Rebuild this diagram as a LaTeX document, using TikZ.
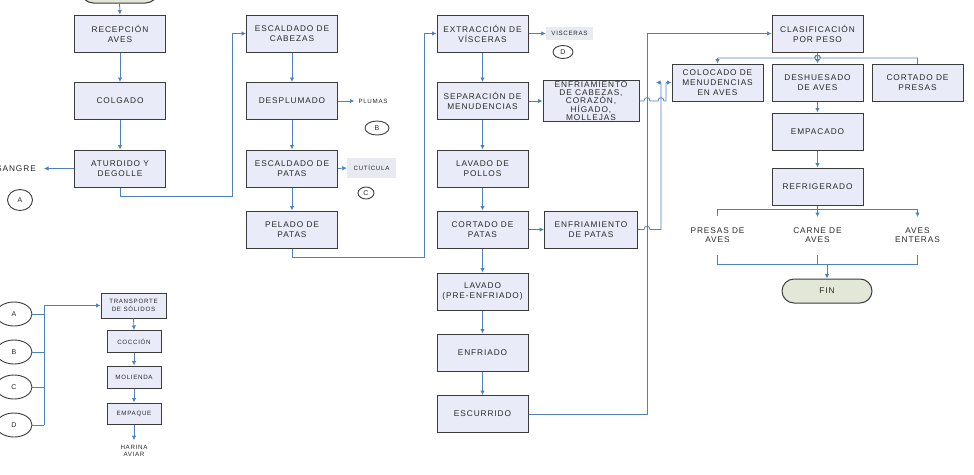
\documentclass[tikz,border=0pt]{standalone}
\usepackage{fontspec}
\setmainfont{Liberation Sans}
\newfontfamily\lspfont[LetterSpace=11]{Liberation Sans}
\usetikzlibrary{arrows.meta,shapes.misc,shapes.geometric}
\definecolor{lnc}{RGB}{79,129,189}
\definecolor{bxc}{RGB}{233,236,248}
\definecolor{bdc}{RGB}{60,60,60}
\definecolor{txc}{RGB}{40,40,40}
\definecolor{tmc}{RGB}{226,231,216}
\definecolor{lbc}{RGB}{232,234,241}
\begin{document}
\begin{tikzpicture}[x=1pt,y=-1pt,
  box/.style={draw=bdc,fill=bxc,line width=1pt,minimum width=91pt,minimum height=37pt,inner sep=1pt,align=center,text=txc,font=\lspfont\fontsize{8.3}{10}\selectfont},
  sbox/.style={box,minimum width=54pt,minimum height=22pt,font=\lspfont\fontsize{6.2}{7.5}\selectfont},
  lab/.style={text=txc,align=center,inner sep=0pt,font=\lspfont\fontsize{8.3}{9}\selectfont},
  slab/.style={text=txc,align=center,inner sep=0pt,font=\lspfont\fontsize{6.2}{7}\selectfont},
  lbox/.style={fill=lbc,text=txc,align=center,inner sep=0pt,font=\lspfont\fontsize{6.2}{7}\selectfont},
  circ/.style={draw=bdc,line width=0.9pt,ellipse,inner sep=0pt,text=txc,font=\lspfont\fontsize{7}{8}\selectfont},
  term/.style={draw=bdc,fill=tmc,line width=1pt,rounded rectangle,inner sep=0pt,text=txc,font=\lspfont\fontsize{8.3}{10}\selectfont},
  arr/.style={draw=lnc,line width=0.8pt,-{Latex[length=4.5pt,width=4.5pt]}},
  lnk/.style={draw=lnc,line width=0.8pt}
]
\useasboundingbox (0,0) rectangle (974,474);
% ---------- column 1
\node[term,minimum width=78pt,minimum height=26pt] (start) at (119.5,-10) {};
\node[box] (rec) at (120,33.5) {RECEPCIÓN\\AVES};
\node[box] (col) at (120,101) {COLGADO};
\node[box] (atu) at (120,168.5) {ATURDIDO Y\\DEGOLLE};
\node[lab,anchor=east] (sangre) at (36,168.5) {SANGRE};
\node[circ,minimum width=25pt,minimum height=21pt] (ca1) at (20,200) {A};
\draw[arr] (start.south) -- (rec.north);
\draw[arr] (rec.south) -- (col.north);
\draw[arr] (col.south) -- (atu.north);
\draw[arr] (atu.west) -- ([xshift=8pt]sangre.east);
% ---------- column 2
\node[box] (escc) at (292,33.5) {ESCALDADO DE\\CABEZAS};
\node[box] (des) at (292,101) {DESPLUMADO};
\node[box] (escp) at (292,168.5) {ESCALDADO DE\\PATAS};
\node[box] (pel) at (292,229.5) {PELADO DE\\PATAS};
\node[slab] (plu) at (373,101) {PLUMAS};
\node[circ,minimum width=24pt,minimum height=14pt] (cb1) at (377,128) {B};
\node[lbox,minimum width=49pt,minimum height=20pt] (cut) at (371.5,168) {CUTÍCULA};
\node[circ,minimum width=16pt,minimum height=12pt] (cc1) at (366,193) {C};
\draw[arr] (atu.south) |- (232,196) |- (escc.west);
\draw[arr] (escc.south) -- (des.north);
\draw[arr] (des.south) -- (escp.north);
\draw[arr] (escp.south) -- (pel.north);
\draw[arr] (des.east) -- ([xshift=-4pt]plu.west);
\draw[arr] (escp.east) -- (cut.west);
% ---------- column 3
\node[box] (ext) at (482.5,33.5) {EXTRACCIÓN DE\\VÍSCERAS};
\node[box] (sep) at (482.5,101) {SEPARACIÓN DE\\MENUDENCIAS};
\node[box] (lav) at (482.5,168.5) {LAVADO DE\\POLLOS};
\node[box] (cor) at (482.5,229.5) {CORTADO DE\\PATAS};
\node[box] (lavp) at (482.5,291.5) {LAVADO\\(PRE-ENFRIADO)};
\node[box] (enf) at (482.5,352.5) {ENFRIADO};
\node[box] (escu) at (482.5,414) {ESCURRIDO};
\node[lbox,minimum width=47pt,minimum height=13pt] (visc) at (569.5,33.5) {VISCERAS};
\node[circ,minimum width=20pt,minimum height=13pt] (cd1) at (563,52) {D};
\node[box,minimum width=96pt,minimum height=38pt,font=\lspfont\fontsize{8.3}{8.4}\selectfont] (cab) at (591,101) {ENFRIAMIENTO\\DE CABEZAS,\\CORAZÓN,\\HÍGADO,\\MOLLEJAS};
\node[box,minimum width=93pt] (pat) at (591,229.5) {ENFRIAMIENTO\\DE PATAS};
\draw[arr] (pel.south) |- (424,257) |- (ext.west);
\draw[arr] (ext.south) -- (sep.north);
\draw[arr] (sep.south) -- (lav.north);
\draw[arr] (lav.south) -- (cor.north);
\draw[arr] (cor.south) -- (lavp.north);
\draw[arr] (lavp.south) -- (enf.north);
\draw[arr] (enf.south) -- (escu.north);
\draw[arr] (ext.east) -- (visc.west);
\draw[arr] (sep.east) -- (cab.west);
\draw[arr] (cor.east) -- (pat.west);
% ---------- right part
\node[box] (cla) at (817.5,33.5) {CLASIFICACIÓN\\POR PESO};
\node[box] (colo) at (717.5,82.5) {COLOCADO DE\\MENUDENCIAS\\EN AVES};
\node[box] (desh) at (817.5,82.5) {DESHUESADO\\DE AVES};
\node[box] (corp) at (917.5,82.5) {CORTADO DE\\PRESAS};
\node[box] (emp) at (817.5,131.5) {EMPACADO};
\node[box] (ref) at (817.5,186.5) {REFRIGERADO};
\node[lab] (pres) at (717.5,235) {PRESAS DE\\AVES};
\node[lab] (carn) at (817.5,235) {CARNE DE\\AVES};
\node[lab] (ente) at (917.5,235) {AVES\\ENTERAS};
\node[term,minimum width=90pt,minimum height=24pt] (fin) at (827,291) {FIN};
% escurrido -> clasificacion
\draw[arr] (escu.east) -- (647,414) |- (cla.west);
% enfriamiento de cabezas -> colocado (hops over two lines)
\draw[lnk] (cab.east) -- (644,101) .. controls (644,96.5) and (650,96.5) .. (650,101) -- (658,101) .. controls (658,96.5) and (664,96.5) .. (664,101) -- (666,101) -- (666,82.5);
\draw[arr] (666,82.5) -- (colo.west);
% enfriamiento de patas -> colocado
\draw[lnk] (pat.east) -- (644,229.5) .. controls (644,225) and (650,225) .. (650,229.5) -- (661,229.5) -- (661,82.5);
\draw[arr] (661,82.5) -- (656,82.5);
% clasificacion branches
\draw[arr] (cla.south) -- (desh.north);
\draw[lnk] (917.5,64) -- (917.5,58) -- (820.5,58) .. controls (820.5,54) and (814.5,54) .. (814.5,58) -- (717.5,58);
\draw[arr] (717.5,58) -- (colo.north);
\draw[lnk] (817.5,58) circle (2.6pt);
\draw[arr] (desh.south) -- (emp.north);
\draw[arr] (emp.south) -- (ref.north);
% refrigerado split
\draw[lnk] (ref.south) -- (817.5,209);
\draw[lnk] (717.5,216) -- (717.5,209) -- (917.5,209);
\draw[arr] (817.5,209) -- (817.5,217);
\draw[arr] (917.5,209) -- (917.5,217);
% merge to FIN
\draw[lnk] (717.5,255) -- (717.5,264) -- (917.5,264) -- (917.5,255);
\draw[lnk] (817.5,255) -- (817.5,264);
\draw[arr] (827,264) -- (fin.north);
% ---------- lower left
\node[circ,minimum width=36pt,minimum height=24pt] (la) at (14,314) {A};
\node[circ,minimum width=36pt,minimum height=24pt] (lb) at (14,352) {B};
\node[circ,minimum width=36pt,minimum height=24pt] (lc) at (14,387) {C};
\node[circ,minimum width=36pt,minimum height=24pt] (ld) at (14,425) {D};
\node[sbox,minimum width=65pt,minimum height=25pt] (tra) at (133.5,305.5) {TRANSPORTE\\DE SÓLIDOS};
\node[sbox] (coc) at (134,341.5) {COCCIÓN};
\node[sbox] (mol) at (134,377) {MOLIENDA};
\node[sbox,minimum height=21pt] (empq) at (134,413.5) {EMPAQUE};
\node[slab] (har) at (134,451) {HARINA\\AVIAR};
\draw[lnk] (la.east) -- (44,314);
\draw[lnk] (lb.east) -- (44,352);
\draw[lnk] (lc.east) -- (44,387);
\draw[lnk] (ld.east) -- (44,425);
\draw[arr] (44,425) -- (44,305.5) -- (tra.west);
\draw[arr] (tra.south) -- (coc.north);
\draw[arr] (coc.south) -- (mol.north);
\draw[arr] (mol.south) -- (empq.north);
\draw[arr] (empq.south) -- ([yshift=5pt]har.north);
\end{tikzpicture}
\end{document}
